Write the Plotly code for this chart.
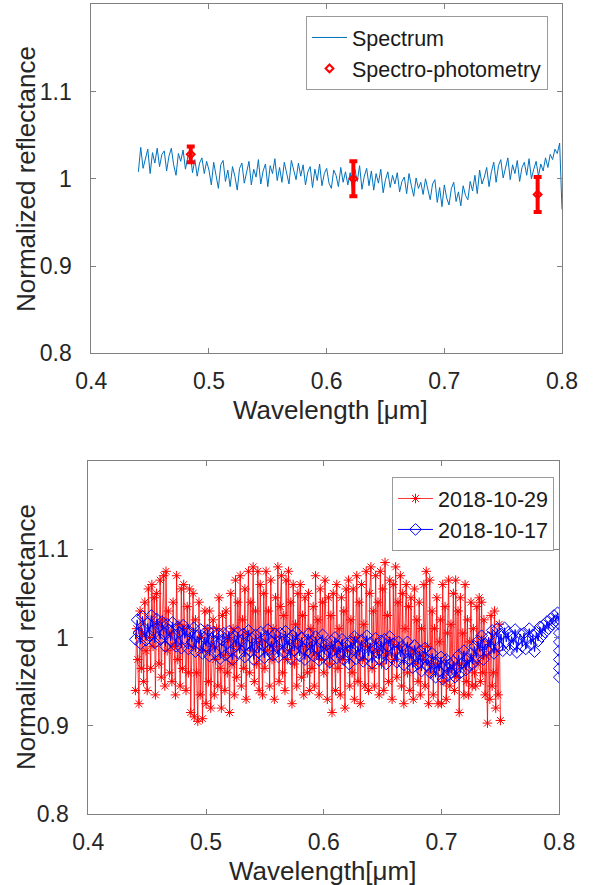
import numpy as np
import plotly.graph_objects as go

# ---------------- data ----------------
# Top panel: spectrum (uniform 0.002 um sampling from 0.44 um)
spec_start, spec_step = 0.44, 0.002
spec_refl = [
    1.008, 1.036, 1.012, 1.024, 1.034, 1.006, 1.030, 1.018, 1.035, 1.014,
    1.028, 1.032, 1.009, 1.026, 1.035, 1.016, 1.004, 1.029, 1.020, 1.033,
    1.011, 1.025, 1.030, 1.007, 1.022, 1.003, 1.018, 1.024, 1.006, 1.020,
    1.010, 0.993, 1.019, 1.004, 0.989, 1.016, 1.021, 0.997, 1.010, 0.991,
    1.014, 1.003, 0.987, 1.012, 1.018, 0.995, 1.006, 1.020, 0.993, 1.011,
    1.002, 1.022, 0.994, 1.009, 1.017, 0.991, 1.015, 1.006, 1.023, 0.998,
    1.013, 0.996, 1.019, 1.007, 0.994, 1.021, 1.010, 0.999, 1.018, 1.003,
    1.016, 0.993, 1.008, 1.014, 0.990, 1.011, 0.998, 1.017, 0.992, 1.006,
    1.012, 0.995, 0.989, 1.010, 1.004, 0.991, 1.013, 0.996, 1.008, 0.993,
    1.007, 0.986, 1.011, 0.997, 1.015, 0.988, 1.003, 1.012, 0.992, 1.009,
    0.987, 1.006, 0.995, 1.011, 0.984, 0.999, 1.008, 0.990, 1.004, 0.994,
    1.007, 0.985, 0.997, 1.002, 0.983, 1.006, 0.992, 0.980, 1.001, 0.989,
    0.996, 0.982, 1.000, 0.987, 0.976, 0.994, 0.999, 0.973, 0.990, 0.968,
    0.993, 0.978, 0.970, 0.989, 0.996, 0.974, 0.985, 0.969, 0.992, 0.981,
    0.976, 0.997, 0.986, 1.004, 0.983, 1.010, 0.994, 1.002, 1.013, 0.991,
    1.008, 1.019, 0.996, 1.015, 1.022, 1.001, 1.012, 1.024, 0.999, 1.016,
    1.006, 1.021, 0.997, 1.013, 1.019, 1.004, 1.023, 1.000, 1.011, 1.020,
    1.003, 1.017, 1.009, 1.024, 1.013, 1.028, 1.022, 1.034, 1.029, 1.041,
    0.965,
]
spec_wl = np.round(spec_start + spec_step * np.arange(len(spec_refl)), 4)

# Top panel: spectro-photometry points
phot_wl = [0.4845, 0.6227, 0.7793]
phot_refl = [1.028, 1.000, 0.982]
phot_err = [0.009, 0.020, 0.020]

# Bottom panel: 2018-10-29 (uniform 0.001 um sampling from 0.44 um)
r29_start, r29_step = 0.44, 0.001
r29_refl = [
    0.940, 1.010, 0.975, 0.925, 1.030, 0.965, 1.005, 0.950, 1.040, 0.985,
    0.940, 1.055, 1.000, 0.965, 1.060, 0.990, 1.045, 0.935, 1.050, 1.015,
    0.970, 1.065, 0.955, 1.020, 1.070, 0.945, 1.075, 0.985, 1.030, 0.960,
    1.005, 0.950, 1.040, 0.990, 0.935, 1.070, 0.975, 1.015, 0.945, 1.055,
    0.965, 1.060, 1.010, 0.940, 1.035, 0.960, 1.055, 0.915, 0.990, 1.050,
    0.910, 1.020, 0.960, 0.905, 1.040, 0.935, 1.000, 0.908, 0.985, 1.030,
    0.925, 1.010, 0.950, 1.030, 0.920, 0.990, 1.020, 0.935, 0.975, 1.010,
    0.945, 1.045, 0.965, 0.920, 1.025, 0.980, 0.940, 1.030, 0.960, 1.000,
    0.915, 1.050, 0.970, 1.010, 0.935, 1.065, 0.955, 1.040, 0.990, 1.070,
    0.945, 1.020, 0.965, 1.055, 0.930, 1.005, 1.075, 0.960, 1.040, 0.985,
    1.080, 0.950, 1.030, 0.970, 1.075, 0.940, 1.060, 0.995, 0.935, 1.050,
    0.965, 1.075, 0.985, 1.030, 0.945, 1.065, 0.975, 1.010, 0.930, 1.045,
    0.990, 1.080, 0.950, 1.035, 1.070, 0.960, 1.025, 0.940, 1.065, 0.975,
    1.075, 0.985, 1.040, 0.925, 1.060, 0.970, 1.015, 0.945, 1.050, 0.990,
    1.060, 0.955, 1.025, 0.935, 1.045, 0.990, 0.960, 1.050, 0.940, 1.010,
    0.965, 1.035, 0.945, 1.070, 0.980, 1.020, 0.935, 1.055, 0.975, 1.040,
    0.960, 1.065, 0.990, 0.930, 1.045, 0.970, 1.025, 0.915, 1.050, 0.985,
    0.940, 1.060, 0.965, 1.010, 0.935, 1.045, 0.975, 1.030, 0.920, 1.055,
    0.985, 1.065, 0.945, 1.020, 0.960, 1.055, 0.930, 1.000, 1.070, 0.950,
    1.040, 0.925, 1.060, 0.975, 1.015, 0.945, 1.075, 0.990, 0.940, 1.050,
    1.080, 0.965, 1.030, 0.945, 1.070, 0.985, 1.040, 0.935, 1.075, 0.970,
    1.055, 0.940, 1.085, 0.980, 1.025, 0.950, 1.065, 0.995, 0.930, 1.060,
    0.975, 1.080, 0.955, 1.040, 0.990, 1.070, 0.945, 1.050, 0.925, 1.010,
    1.060, 0.960, 1.035, 0.940, 1.045, 0.985, 0.930, 1.055, 0.970, 1.020,
    0.950, 1.040, 0.935, 1.010, 0.975, 1.060, 0.945, 1.075, 0.990, 0.925,
    1.065, 0.960, 1.030, 0.935, 1.010, 0.970, 1.045, 0.925, 0.995, 1.020,
    0.925, 1.060, 0.950, 1.035, 0.930, 1.005, 1.065, 0.945, 1.015, 0.965,
    1.050, 0.940, 1.065, 0.955, 1.030, 0.915, 1.045, 0.970, 1.005, 0.935,
    1.060, 0.950, 1.020, 0.935, 0.995, 1.040, 0.945, 1.010, 0.960, 0.945,
    1.035, 0.970, 1.045, 0.950, 1.040, 0.960, 1.020, 0.935, 0.980, 0.903,
    0.995, 0.930, 1.025, 0.945, 0.960, 1.030, 0.920, 0.985, 0.935, 1.015,
    0.906,
]
r29_wl = np.round(r29_start + r29_step * np.arange(len(r29_refl)), 4)

# Bottom panel: 2018-10-17 (uniform 0.0015 um sampling, plus a last column at 0.8 um)
r17_start, r17_step = 0.44, 0.0015
r17_refl = [
    0.998, 1.020, 1.005, 0.993, 1.024, 1.010, 0.997, 1.016, 1.002, 1.025,
    1.008, 0.994, 1.021, 1.012, 0.998, 1.018, 1.004, 0.990, 1.015, 1.009,
    0.996, 1.017, 1.003, 0.990, 1.012, 1.006, 0.988, 1.014, 0.999, 1.008,
    0.987, 1.006, 0.995, 1.011, 0.984, 1.002, 0.993, 1.009, 0.982, 1.000,
    0.990, 1.008, 0.979, 0.998, 1.006, 0.983, 0.995, 1.004, 0.976, 0.997,
    1.005, 0.980, 0.993, 1.007, 0.985, 0.975, 1.002, 0.990, 1.006, 0.982,
    0.996, 1.004, 0.978, 0.992, 1.008, 0.984, 0.999, 0.975, 1.003, 0.989,
    0.983, 1.006, 0.992, 0.977, 1.001, 1.009, 0.986, 0.996, 0.980, 1.004,
    0.990, 0.978, 1.005, 0.995, 0.983, 1.007, 0.988, 0.998, 0.976, 1.002,
    0.985, 1.006, 0.993, 0.979, 1.000, 0.987, 0.975, 0.997, 1.004, 0.983,
    0.996, 0.979, 1.001, 0.988, 0.974, 0.994, 1.003, 0.981, 0.992, 0.985,
    0.972, 0.996, 0.985, 1.000, 0.977, 0.990, 0.982, 0.998, 0.975, 0.993,
    0.984, 0.970, 0.995, 0.987, 1.001, 0.976, 0.990, 0.980, 0.997, 0.973,
    0.991, 1.002, 0.979, 0.994, 0.971, 0.988, 0.999, 0.983, 0.975, 0.996,
    0.982, 0.998, 0.970, 0.990, 1.001, 0.977, 0.993, 0.984, 0.972, 0.995,
    0.978, 0.990, 0.969, 0.986, 0.995, 0.974, 0.983, 0.966, 0.991, 0.979,
    0.970, 0.985, 0.962, 0.978, 0.988, 0.968, 0.975, 0.960, 0.982, 0.971,
    0.955, 0.972, 0.962, 0.978, 0.953, 0.968, 0.975, 0.957, 0.970, 0.960,
    0.973, 0.955, 0.966, 0.980, 0.960, 0.971, 0.985, 0.963, 0.976, 0.968,
    0.982, 0.970, 0.990, 0.977, 0.996, 0.984, 1.002, 0.975, 0.993, 0.986,
    1.000, 0.988, 1.008, 0.982, 0.997, 1.010, 0.990, 1.004, 0.985, 1.011,
    0.995, 1.006, 0.986, 1.001, 0.992, 1.009, 0.983, 0.998, 1.004, 0.990,
    1.005, 0.987, 0.999, 1.010, 0.992, 1.003, 0.984, 1.006, 0.996, 1.012,
    1.001, 1.014, 1.006, 1.018, 1.010, 1.021, 1.015, 1.025, 1.019, 1.028,
]
r17_tail_wl = [0.8, 0.8, 0.8, 0.8, 0.8, 0.8, 0.8]
r17_tail_refl = [1.015, 1.005, 0.995, 0.985, 0.975, 0.965, 0.955]
r17_wl = list(np.round(r17_start + r17_step * np.arange(len(r17_refl)), 4)) + r17_tail_wl
r17_all = r17_refl + r17_tail_refl

x_ticks = [0.4, 0.5, 0.6, 0.7, 0.8]
x_ticklabels = ["0.4", "0.5", "0.6", "0.7", "0.8"]
y_ticks = [0.8, 0.9, 1.0, 1.1]
y_ticklabels = ["0.8", "0.9", "1", "1.1"]

# ---------------- figure ----------------
W, H = 601, 885
FONT = "Liberation Sans, Arial, Helvetica, sans-serif"
TXT = "#262626"
AXC = "#808080"

fig = go.Figure()

fig.add_trace(go.Scatter(
    x=spec_wl, y=spec_refl, mode="lines", name="Spectrum",
    line=dict(color="#0072BD", width=1), xaxis="x", yaxis="y", legend="legend",
))
fig.add_trace(go.Scatter(
    x=phot_wl, y=phot_refl, mode="markers", name="Spectro-photometry",
    marker=dict(symbol="diamond-open", color="#FF0000", size=6, line=dict(width=2, color="#FF0000")),
    error_y=dict(type="data", array=phot_err, color="#FF0000", thickness=4, width=4),
    xaxis="x", yaxis="y", legend="legend",
))

fig.add_trace(go.Scatter(
    x=r29_wl, y=r29_refl, mode="lines+markers", name="2018-10-29",
    line=dict(color="rgba(255,0,0,0.8)", width=1),
    marker=dict(symbol="asterisk-open", color="#FF0000", size=8, line=dict(width=1, color="#FF0000")),
    xaxis="x2", yaxis="y2", legend="legend2",
))
fig.add_trace(go.Scatter(
    x=r17_wl, y=r17_all, mode="lines+markers", name="2018-10-17",
    line=dict(color="#0000FF", width=1),
    marker=dict(symbol="diamond-open", color="#0000FF", size=9, line=dict(width=1, color="#0000FF")),
    xaxis="x2", yaxis="y2", legend="legend2",
))

def px_x(p):
    return p / W

def px_y(p):
    return 1 - p / H

axis_common = dict(
    showgrid=False, zeroline=False, showline=True, linecolor=AXC, linewidth=1,
    mirror="ticks", ticks="inside", ticklen=5, tickcolor=AXC, tickwidth=1,
    tickfont=dict(family=FONT, size=23, color=TXT), automargin=False,
)

legend_common = dict(
    xanchor="right", yanchor="top", bgcolor="white", bordercolor="#9a9a9a", borderwidth=1,
    font=dict(family=FONT, size=21.5, color="#1a1a1a"), tracegroupgap=0, itemwidth=35,
)

fig.update_layout(
    width=W, height=H,
    margin=dict(l=0, r=0, t=0, b=0),
    paper_bgcolor="white", plot_bgcolor="white",
    font=dict(family=FONT, color=TXT),
    xaxis=dict(domain=[px_x(91.3), px_x(562)], anchor="y", range=[0.4, 0.8],
               tickvals=x_ticks, ticktext=x_ticklabels, ticklabelstandoff=7, **axis_common),
    yaxis=dict(domain=[px_y(353.3), px_y(4.3)], anchor="x", range=[0.8, 1.2],
               tickvals=y_ticks, ticktext=y_ticklabels, ticklabelstandoff=14, **axis_common),
    xaxis2=dict(domain=[px_x(88.3), px_x(559.3)], anchor="y2", range=[0.4, 0.8],
                tickvals=x_ticks, ticktext=x_ticklabels, ticklabelstandoff=7, **axis_common),
    yaxis2=dict(domain=[px_y(814), px_y(461)], anchor="x2", range=[0.8, 1.2],
                tickvals=y_ticks, ticktext=y_ticklabels, ticklabelstandoff=14, **axis_common),
    legend=dict(x=px_x(548), y=px_y(16), **legend_common),
    legend2=dict(x=px_x(554), y=px_y(477), **legend_common),
    showlegend=True,
)

title_font = dict(family=FONT, size=26, color=TXT)
fig.add_annotation(text="Wavelength [μm]", x=px_x(330), y=px_y(410), xref="paper", yref="paper",
                   xanchor="center", yanchor="middle", showarrow=False, font=title_font)
fig.add_annotation(text="Normalized reflectance", x=px_x(26), y=px_y(179), xref="paper", yref="paper",
                   xanchor="center", yanchor="middle", textangle=-90, showarrow=False, font=title_font)
fig.add_annotation(text="Wavelength[μm]", x=px_x(322), y=px_y(871), xref="paper", yref="paper",
                   xanchor="center", yanchor="middle", showarrow=False, font=title_font)
fig.add_annotation(text="Normalized reflectance", x=px_x(26), y=px_y(637), xref="paper", yref="paper",
                   xanchor="center", yanchor="middle", textangle=-90, showarrow=False, font=title_font)

fig.write_html(
    "out.html",
    config={"displayModeBar": False},
    post_script="document.body.style.margin='0px'; document.body.style.overflow='hidden';",
)
